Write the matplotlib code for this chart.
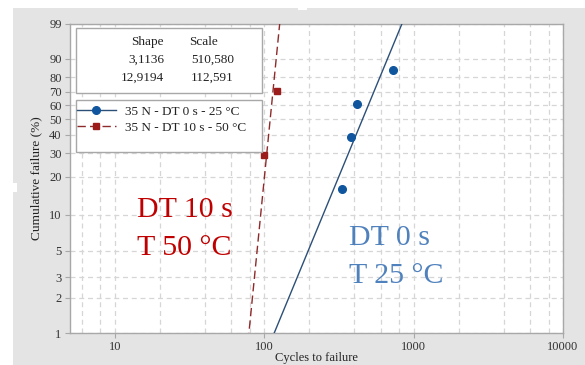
import numpy as np
import matplotlib
matplotlib.use('Agg')
import matplotlib.pyplot as plt
from matplotlib.patches import Rectangle
from matplotlib.lines import Line2D
from matplotlib.ticker import FixedLocator, FixedFormatter, LogLocator, NullFormatter

# ---------------- data ----------------
blue_cycles = [331, 380, 417, 724]
blue_pct = [15.9, 38.6, 61.4, 84.1]
red_cycles = [100, 122]
red_pct = [29.2, 70.8]
shape_vals = [3.1136, 12.9194]
scale_vals = [510.580, 112.591]
shape_txt = ['3,1136', '12,9194']
scale_txt = ['510,580', '112,591']
series_labels = ['35 N - DT 0 s - 25 °C', '35 N - DT 10 s - 50 °C']
y_ticks = [1, 2, 3, 5, 10, 20, 30, 40, 50, 60, 70, 80, 90, 99]
x_ticks = [10, 100, 1000, 10000]
x_tick_labels = ['10', '100', '1000', '10000']

SERIF = 'Liberation Serif'
plt.rcParams['font.family'] = [SERIF, 'DejaVu Serif']

BLUE_LINE = '#2c4f78'
BLUE_MK = '#10569e'
RED_LINE = '#8e2a2a'
RED_MK = '#9c1c1c'
GRID = '#d6d6d6'
SPINE = '#a8a8a8'
BG = '#e4e4e4'

W, H = 585, 365
fig = plt.figure(figsize=(W / 100, H / 100), dpi=100)
fig.patch.set_facecolor('white')
fig.patches.append(Rectangle((13 / W, 0), 1 - 13 / W, 1 - 8 / H, transform=fig.transFigure,
                             facecolor=BG, edgecolor='none', zorder=-10))
# small white patches of the original screenshot
fig.patches.append(Rectangle((0, 1 - 192 / H), 17 / W, 9 / H, transform=fig.transFigure,
                             facecolor='white', edgecolor='none', zorder=-9))
fig.patches.append(Rectangle((298 / W, 1 - 10 / H), 9 / W, 3 / H, transform=fig.transFigure,
                             facecolor='white', edgecolor='none', zorder=-9))

L, R, T, B = 70, 563, 24, 333
ax = fig.add_axes([L / W, 1 - B / H, (R - L) / W, (B - T) / H])
ax.set_zorder(1)
ax.set_facecolor('white')


def axc(px, py):
    return ((px - L) / (R - L), (B - py) / (B - T))


def fwd(p):
    p = np.clip(np.asarray(p, dtype=float), 1e-6, 100 - 1e-6)
    return np.log(-np.log(1 - p / 100.0))


def inv(w):
    return 100.0 * (1 - np.exp(-np.exp(np.asarray(w, dtype=float))))


ax.set_xscale('log')
ax.set_yscale('function', functions=(fwd, inv))
ax.set_xlim(5, 10000)
ax.set_ylim(1, 99)

# fitted Weibull lines
pp = np.linspace(0.5, 99.7, 400)
for sh, sc, col, ls in [(shape_vals[0], scale_vals[0], BLUE_LINE, '-'),
                        (shape_vals[1], scale_vals[1], RED_LINE, (0, (6, 3)))]:
    xx = sc * (-np.log(1 - pp / 100.0)) ** (1.0 / sh)
    ax.plot(xx, pp, color=col, lw=1.0, ls=ls, zorder=4)

ax.plot(blue_cycles, blue_pct, 'o', color=BLUE_MK, ms=5.5, zorder=5, mec=BLUE_MK)
ax.plot(red_cycles, red_pct, 's', color=RED_MK, ms=4.5, zorder=5, mec=RED_MK)

# ticks & grid
ax.yaxis.set_major_locator(FixedLocator(y_ticks))
ax.yaxis.set_major_formatter(FixedFormatter([str(v) for v in y_ticks]))
ax.yaxis.set_minor_locator(FixedLocator([]))
ax.xaxis.set_major_locator(FixedLocator(x_ticks))
ax.xaxis.set_major_formatter(FixedFormatter(x_tick_labels))
ax.xaxis.set_minor_locator(LogLocator(base=10, subs=(2, 4, 6, 8), numticks=20))
ax.xaxis.set_minor_formatter(NullFormatter())
ax.tick_params(axis='both', which='major', length=3.5, width=0.8, color=SPINE,
               labelsize=9, labelcolor='#333333', pad=2.5)
ax.tick_params(axis='x', which='minor', length=0)
ax.grid(True, which='both', color=GRID, ls=(0, (4, 3)), lw=0.9, zorder=1)
ax.set_axisbelow(True)
for s in ax.spines.values():
    s.set_color(SPINE)
    s.set_linewidth(1.0)

ax.set_xlabel('Cycles to failure', fontsize=9, color='#222222', labelpad=-1)
ax.set_ylabel('Cumulative failure (%)', fontsize=9.5, color='#222222', labelpad=5)

# parameter table box
x0, y0 = axc(76, 93)
x1, y1 = axc(262, 28)
ax.add_patch(Rectangle((x0, y0), x1 - x0, y1 - y0, transform=ax.transAxes,
                       facecolor='white', edgecolor=SPINE, lw=1.0, zorder=6))
tfs = 9.5
ax.text(*axc(164, 42), 'Shape', transform=ax.transAxes, ha='right', va='center',
        fontsize=tfs, color='#222222', zorder=7)
ax.text(*axc(218, 42), 'Scale', transform=ax.transAxes, ha='right', va='center',
        fontsize=tfs, color='#222222', zorder=7)
for i, (a, b) in enumerate(zip(shape_txt, scale_txt)):
    yy = 60 + 17.5 * i
    ax.text(*axc(164, yy), a, transform=ax.transAxes, ha='right', va='center',
            fontsize=tfs, color='#222222', zorder=7)
    ax.text(*axc(234, yy), b, transform=ax.transAxes, ha='right', va='center',
            fontsize=tfs, color='#222222', zorder=7)

# legend box
x0, y0 = axc(76, 152)
x1, y1 = axc(262, 100)
ax.add_patch(Rectangle((x0, y0), x1 - x0, y1 - y0, transform=ax.transAxes,
                       facecolor='white', edgecolor=SPINE, lw=1.0, zorder=6))
handles = [Line2D([], [], color=BLUE_LINE, lw=1.0, marker='o', ms=5.5, mfc=BLUE_MK, mec=BLUE_MK),
           Line2D([], [], color=RED_LINE, lw=1.0, ls=(0, (6, 3)), marker='s', ms=4.5,
                  mfc=RED_MK, mec=RED_MK)]
leg = ax.legend(handles, series_labels, loc='upper left', bbox_to_anchor=axc(76, 104),
                frameon=False, fontsize=9.5, handlelength=2.9, handletextpad=0.7,
                labelspacing=0.3, borderaxespad=0, borderpad=0.1)
leg.set_zorder(8)
for t in leg.get_texts():
    t.set_color('#222222')

# annotations
ax.text(*axc(137, 217), 'DT 10 s', transform=ax.transAxes, fontsize=21.5,
        color='#c00000', va='baseline', ha='left', zorder=7)
ax.text(*axc(137, 255), 'T 50 °C', transform=ax.transAxes, fontsize=21.5,
        color='#c00000', va='baseline', ha='left', zorder=7)
ax.text(*axc(349, 245), 'DT 0 s', transform=ax.transAxes, fontsize=21.5,
        color='#4f81bd', va='baseline', ha='left', zorder=7)
ax.text(*axc(349, 283), 'T 25 °C', transform=ax.transAxes, fontsize=21.5,
        color='#4f81bd', va='baseline', ha='left', zorder=7)

fig.savefig('out.png', dpi=100, facecolor=fig.get_facecolor())
